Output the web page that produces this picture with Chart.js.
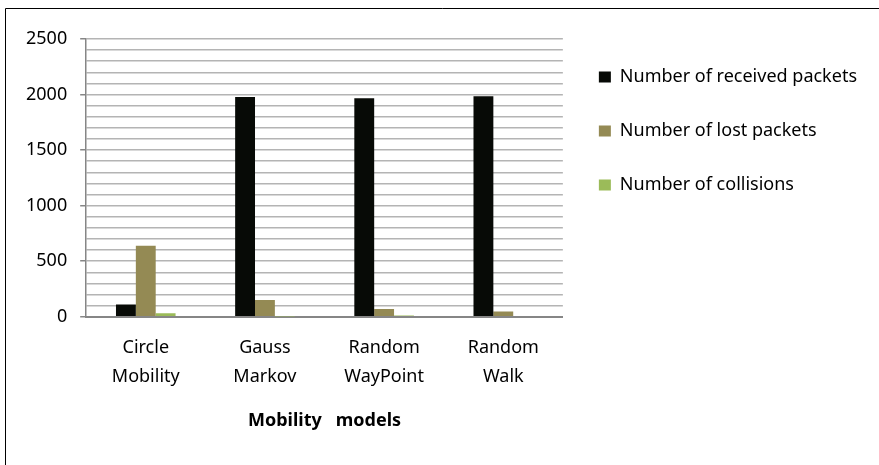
<!DOCTYPE html>
<html>
<head>
<meta charset="utf-8">
<script src="https://cdn.jsdelivr.net/npm/chart.js@4.4.0/dist/chart.umd.min.js"></script>
<style>
  html, body { margin: 0; padding: 0; background: #fff; }
  #wrap { width: 879px; height: 465px; }
</style>
</head>
<body>
<div id="wrap"><canvas id="myChart"></canvas></div>
<script>
const categories = [['Circle', 'Mobility'], ['Gauss', 'Markov'], ['Random', 'WayPoint'], ['Random', 'Walk']];
const receivedPackets = [110, 1979, 1967, 1985];
const lostPackets = [640, 151, 70, 48];
const collisions = [31, 2, 12, 0];
const seriesNames = ['Number of received packets', 'Number of lost packets', 'Number of collisions'];
const yTicks = [0, 500, 1000, 1500, 2000, 2500];

const FONT = "'Noto Sans'";

// thin frame round the chart (only left and top edges show in the picture)
const framePlugin = {
  id: 'frame',
  beforeDraw(chart) {
    const c = chart.ctx;
    c.save();
    c.strokeStyle = '#000';
    c.lineWidth = 1;
    c.beginPath();
    c.moveTo(5.5, chart.height + 2);
    c.lineTo(5.5, 8.5);
    c.lineTo(chart.width + 2, 8.5);
    c.stroke();
    c.restore();
  }
};

const ctx = document.getElementById('myChart');

new Chart(ctx, {
  type: 'bar',
  data: {
    labels: categories,
    datasets: [
      { label: seriesNames[0], data: receivedPackets, backgroundColor: '#070a06' },
      { label: seriesNames[1], data: lostPackets, backgroundColor: '#948a54' },
      { label: seriesNames[2], data: collisions, backgroundColor: '#9bbb59' }
    ]
  },
  plugins: [framePlugin],
  options: {
    responsive: true,
    maintainAspectRatio: false,
    animation: false,
    categoryPercentage: 0.5,
    barPercentage: 1.0,
    layout: {
      padding: { top: 32, left: 13, right: 12, bottom: 33 }
    },
    plugins: {
      tooltip: { enabled: false },
      legend: {
        position: 'right',
        align: 'start',
        maxWidth: 340,
        labels: {
          boxWidth: 12,
          boxHeight: 11,
          padding: 36,
          color: '#000',
          font: { family: FONT, size: 18 }
        }
      }
    },
    scales: {
      x: {
        grid: { display: false, drawTicks: false },
        border: { color: '#868686', width: 2 },
        ticks: {
          padding: 17,
          color: '#000',
          font: { family: FONT, size: 18, lineHeight: 1.6 }
        },
        title: {
          display: true,
          text: 'Mobility   models',
          color: '#000',
          font: { family: FONT, size: 18, weight: 'bold', lineHeight: 1.2 },
          padding: { top: 2, bottom: 0 }
        }
      },
      y: {
        min: 0,
        max: 2500,
        afterFit(scale) {
          scale.paddingTop = 39;
        },
        grid: {
          color: '#b4b4b4',
          lineWidth: 1.5,
          tickLength: 6,
          tickColor: (c) => (c.tick && yTicks.includes(c.tick.value) ? '#868686' : 'rgba(0,0,0,0)')
        },
        border: { color: '#868686', width: 1.5 },
        ticks: {
          stepSize: 100,
          autoSkip: false,
          padding: 13,
          color: '#000',
          font: { family: FONT, size: 18 },
          callback: (v) => (yTicks.includes(v) ? String(v) : '')
        }
      }
    }
  }
});
</script>
</body>
</html>
